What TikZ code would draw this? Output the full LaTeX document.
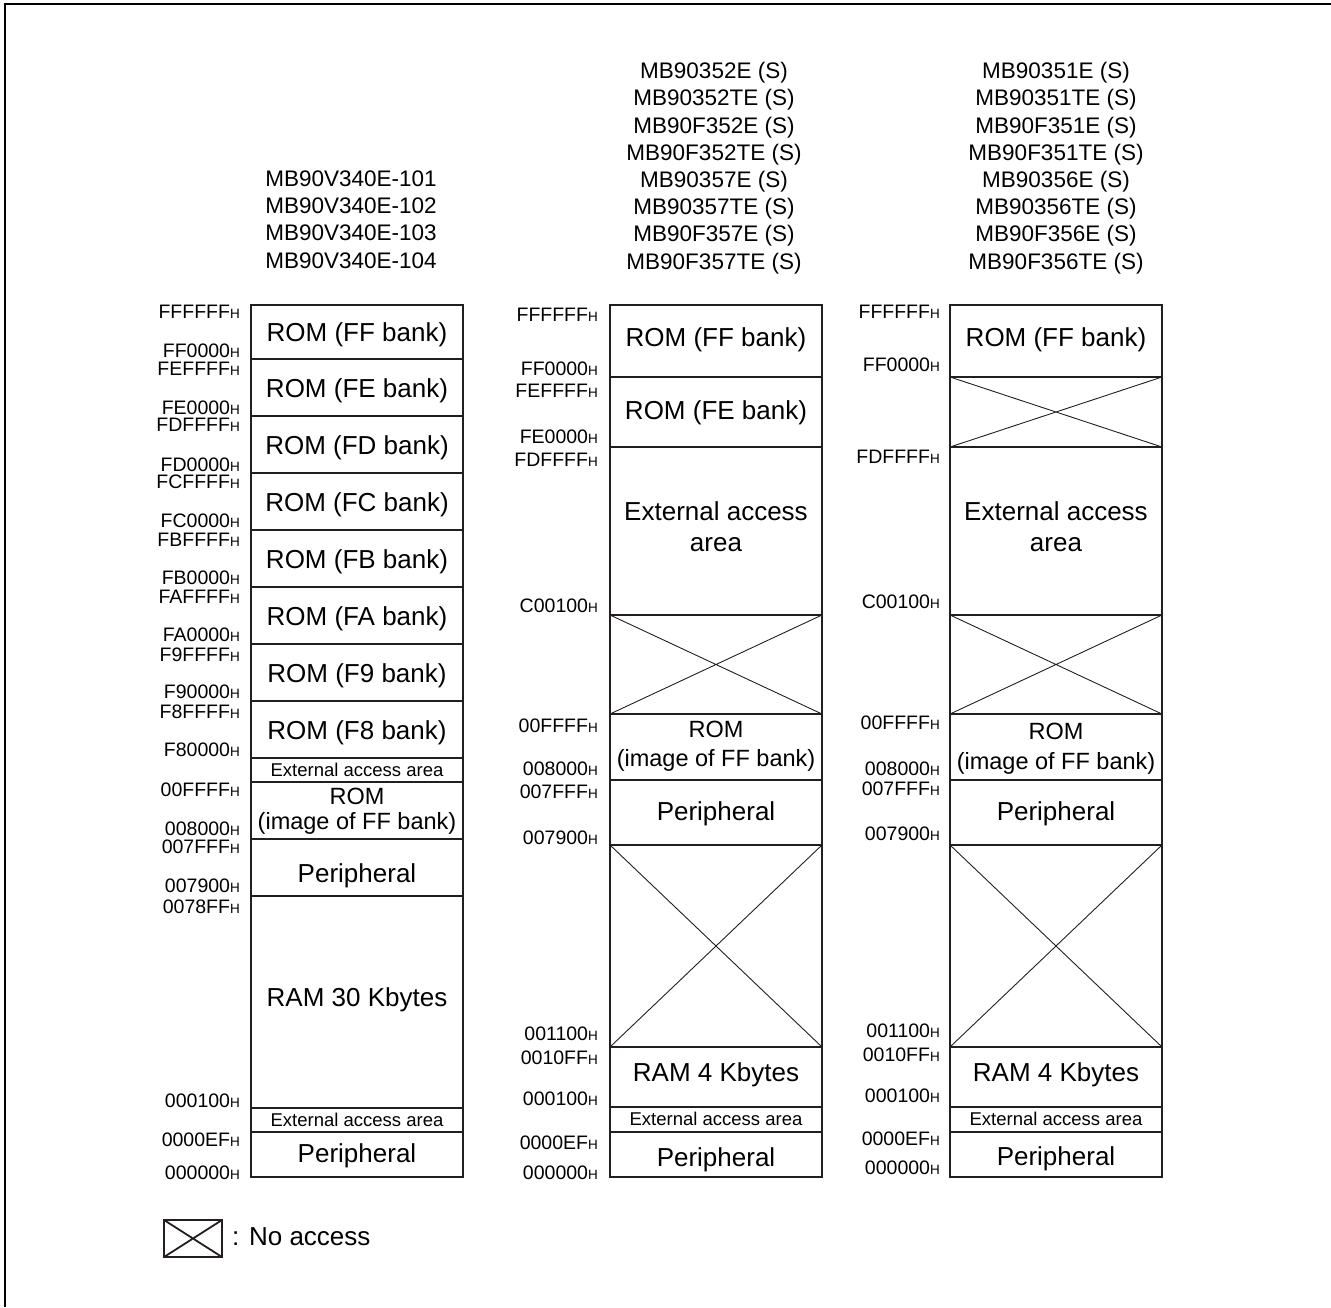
\documentclass[tikz,border=0pt]{standalone}
\usepackage{fontspec}
\setmainfont{Liberation Sans}
\usepackage{tikz}
\definecolor{mapline}{RGB}{35,31,32}
\newcommand{\addrH}[1]{#1{\fontsize{13.5}{13.5}\selectfont H}}
\newcommand{\areafont}{\fontsize{26}{31}\selectfont}
\newcommand{\smallareafont}{\fontsize{18.5}{20}\selectfont}
\newcommand{\addrfont}{\fontsize{19.5}{21}\selectfont}
\newcommand{\partfont}{\fontsize{22.5}{27.2}\selectfont}

\begin{document}
\begin{tikzpicture}[x=1pt,y=-1pt,
   box/.style={line width=2.3pt,draw=mapline},
   noaccess/.style={line width=0.9pt,draw=mapline},
   addr/.style={anchor=east,inner sep=0pt,font=\addrfont},
   area/.style={inner sep=0pt,align=center,font=\areafont},
   smallarea/.style={inner sep=0pt,font=\smallareafont},
   imagearea/.style={inner sep=0pt,align=center},
   parts/.style={inner sep=0pt,align=center,font=\partfont}]
   \useasboundingbox (0,0) rectangle (1331,1307);
   \draw[line width=1.6pt] (5,1307) -- (5,4) -- (1331,4);

   % part numbers
   \node[parts] (lparts) at (351,219.5) {MB90V340E-101\\MB90V340E-102\\MB90V340E-103\\MB90V340E-104};
   \node[parts] (mparts) at (714,168) {MB90352E (S)\\MB90352TE (S)\\MB90F352E (S)\\MB90F352TE (S)\\MB90357E (S)\\MB90357TE (S)\\MB90F357E (S)\\MB90F357TE (S)};
   \node[parts] (rparts) at (1056,168) {MB90351E (S)\\MB90351TE (S)\\MB90F351E (S)\\MB90F351TE (S)\\MB90356E (S)\\MB90356TE (S)\\MB90F356E (S)\\MB90F356TE (S)};

   % left map
   \draw[box] (251,305) rectangle (463,1177);
   \draw[box] (251,359) -- (463,359) (251,416) -- (463,416) (251,473) -- (463,473)
              (251,530) -- (463,530) (251,587) -- (463,587) (251,644) -- (463,644)
              (251,701) -- (463,701) (251,758) -- (463,758) (251,782) -- (463,782)
              (251,839) -- (463,839) (251,896) -- (463,896) (251,1108) -- (463,1108)
              (251,1132) -- (463,1132);
   \node[area] (lff) at (357,335) {ROM (FF bank)};
   \node[area] (lfe) at (357,391) {ROM (FE bank)};
   \node[area] (lfd) at (357,448) {ROM (FD bank)};
   \node[area] (lfc) at (357,505) {ROM (FC bank)};
   \node[area] (lfb) at (357,562) {ROM (FB bank)};
   \node[area] (lfa) at (357,619) {ROM (FA bank)};
   \node[area] (lf9) at (357,676) {ROM (F9 bank)};
   \node[area] (lf8) at (357,733) {ROM (F8 bank)};
   \node[smallarea] (lext) at (357,770) {External access area};
   \node[imagearea,font={\fontsize{23.5}{25.5}\selectfont}] (lrom) at (357,811) {ROM\\(image of FF bank)};
   \node[area] (lper) at (357,875.5) {Peripheral};
   \node[area] (lram) at (357,1000) {RAM 30 Kbytes};
   \node[smallarea] (lextlow) at (357,1120) {External access area};
   \node[area] (lperlow) at (357,1156) {Peripheral};

   \node[addr] (la1) at (240,312) {\addrH{FFFFFF}};
   \node[addr] (la2) at (240,351) {\addrH{FF0000}};
   \node[addr] (la3) at (240,369) {\addrH{FEFFFF}};
   \node[addr] (la4) at (240,408) {\addrH{FE0000}};
   \node[addr] (la5) at (240,425) {\addrH{FDFFFF}};
   \node[addr] (la6) at (240,465) {\addrH{FD0000}};
   \node[addr] (la7) at (240,482) {\addrH{FCFFFF}};
   \node[addr] (la8) at (240,521) {\addrH{FC0000}};
   \node[addr] (la9) at (240,540) {\addrH{FBFFFF}};
   \node[addr] (la10) at (240,578) {\addrH{FB0000}};
   \node[addr] (la11) at (240,597) {\addrH{FAFFFF}};
   \node[addr] (la12) at (240,635) {\addrH{FA0000}};
   \node[addr] (la13) at (240,655) {\addrH{F9FFFF}};
   \node[addr] (la14) at (240,692) {\addrH{F90000}};
   \node[addr] (la15) at (240,712) {\addrH{F8FFFF}};
   \node[addr] (la16) at (240,750) {\addrH{F80000}};
   \node[addr] (la17) at (240,790) {\addrH{00FFFF}};
   \node[addr] (la18) at (240,829) {\addrH{008000}};
   \node[addr] (la19) at (240,847) {\addrH{007FFF}};
   \node[addr] (la20) at (240,886) {\addrH{007900}};
   \node[addr] (la21) at (240,907) {\addrH{0078FF}};
   \node[addr] (la22) at (240,1101) {\addrH{000100}};
   \node[addr] (la23) at (240,1140) {\addrH{0000EF}};
   \node[addr] (la24) at (240,1173) {\addrH{000000}};

   % middle map
   \draw[box] (610,305) rectangle (822,1177);
   \draw[box] (610,377) -- (822,377) (610,447) -- (822,447) (610,615) -- (822,615)
              (610,714) -- (822,714) (610,780) -- (822,780) (610,845) -- (822,845)
              (610,1047) -- (822,1047) (610,1107) -- (822,1107) (610,1132) -- (822,1132);
   \draw[noaccess] (610,615) -- (822,714) (610,714) -- (822,615);
   \draw[noaccess] (610,845) -- (822,1047) (610,1047) -- (822,845);
   \node[area] (mff) at (716,339.5) {ROM (FF bank)};
   \node[area] (mfe) at (716,412.5) {ROM (FE bank)};
   \node[area] (mext) at (716,526.5) {External access\\area};
   \node[imagearea,font={\fontsize{23.5}{29}\selectfont}] (mrom) at (716,746) {ROM\\(image of FF bank)};
   \node[area] (mper) at (716,813.5) {Peripheral};
   \node[area] (mram) at (716,1074.5) {RAM 4 Kbytes};
   \node[smallarea] (mextlow) at (716,1119) {External access area};
   \node[area] (mperlow) at (716,1159.5) {Peripheral};

   \node[addr] (ma1) at (598,315) {\addrH{FFFFFF}};
   \node[addr] (ma2) at (598,369) {\addrH{FF0000}};
   \node[addr] (ma3) at (598,391) {\addrH{FEFFFF}};
   \node[addr] (ma4) at (598,437) {\addrH{FE0000}};
   \node[addr] (ma5) at (598,460) {\addrH{FDFFFF}};
   \node[addr] (ma6) at (598,606) {\addrH{C00100}};
   \node[addr] (ma7) at (598,726) {\addrH{00FFFF}};
   \node[addr] (ma8) at (598,769) {\addrH{008000}};
   \node[addr] (ma9) at (598,792) {\addrH{007FFF}};
   \node[addr] (ma10) at (598,838) {\addrH{007900}};
   \node[addr] (ma11) at (598,1034) {\addrH{001100}};
   \node[addr] (ma12) at (598,1058) {\addrH{0010FF}};
   \node[addr] (ma13) at (598,1099) {\addrH{000100}};
   \node[addr] (ma14) at (598,1143) {\addrH{0000EF}};
   \node[addr] (ma15) at (598,1173) {\addrH{000000}};

   % right map
   \draw[box] (950,305) rectangle (1162,1177);
   \draw[box] (950,377) -- (1162,377) (950,447) -- (1162,447) (950,615) -- (1162,615)
              (950,714) -- (1162,714) (950,780) -- (1162,780) (950,845) -- (1162,845)
              (950,1047) -- (1162,1047) (950,1107) -- (1162,1107) (950,1132) -- (1162,1132);
   \draw[noaccess] (950,377) -- (1162,447) (950,447) -- (1162,377);
   \draw[noaccess] (950,615) -- (1162,714) (950,714) -- (1162,615);
   \draw[noaccess] (950,845) -- (1162,1047) (950,1047) -- (1162,845);
   \node[area] (rff) at (1056,339.5) {ROM (FF bank)};
   \node[area] (rext) at (1056,526.5) {External access\\area};
   \node[imagearea,font={\fontsize{23.5}{30}\selectfont}] (rrom) at (1056,748.5) {ROM\\(image of FF bank)};
   \node[area] (rper) at (1056,813.5) {Peripheral};
   \node[area] (rram) at (1056,1074.5) {RAM 4 Kbytes};
   \node[smallarea] (rextlow) at (1056,1119) {External access area};
   \node[area] (rperlow) at (1056,1158.5) {Peripheral};

   \node[addr] (ra1) at (940,312) {\addrH{FFFFFF}};
   \node[addr] (ra2) at (940,365) {\addrH{FF0000}};
   \node[addr] (ra3) at (940,457) {\addrH{FDFFFF}};
   \node[addr] (ra4) at (940,602) {\addrH{C00100}};
   \node[addr] (ra5) at (940,723) {\addrH{00FFFF}};
   \node[addr] (ra6) at (940,769) {\addrH{008000}};
   \node[addr] (ra7) at (940,789) {\addrH{007FFF}};
   \node[addr] (ra8) at (940,834) {\addrH{007900}};
   \node[addr] (ra9) at (940,1031) {\addrH{001100}};
   \node[addr] (ra10) at (940,1055) {\addrH{0010FF}};
   \node[addr] (ra11) at (940,1096) {\addrH{000100}};
   \node[addr] (ra12) at (940,1139) {\addrH{0000EF}};
   \node[addr] (ra13) at (940,1168) {\addrH{000000}};

   % legend
   \draw[box] (164,1220) rectangle (222,1257);
   \draw[line width=1.8pt,draw=mapline] (164,1220) -- (222,1257) (164,1257) -- (222,1220);
   \node[anchor=west,inner sep=0pt,font=\areafont] (legend) at (232,1237) {: No access};
\end{tikzpicture}
\end{document}
